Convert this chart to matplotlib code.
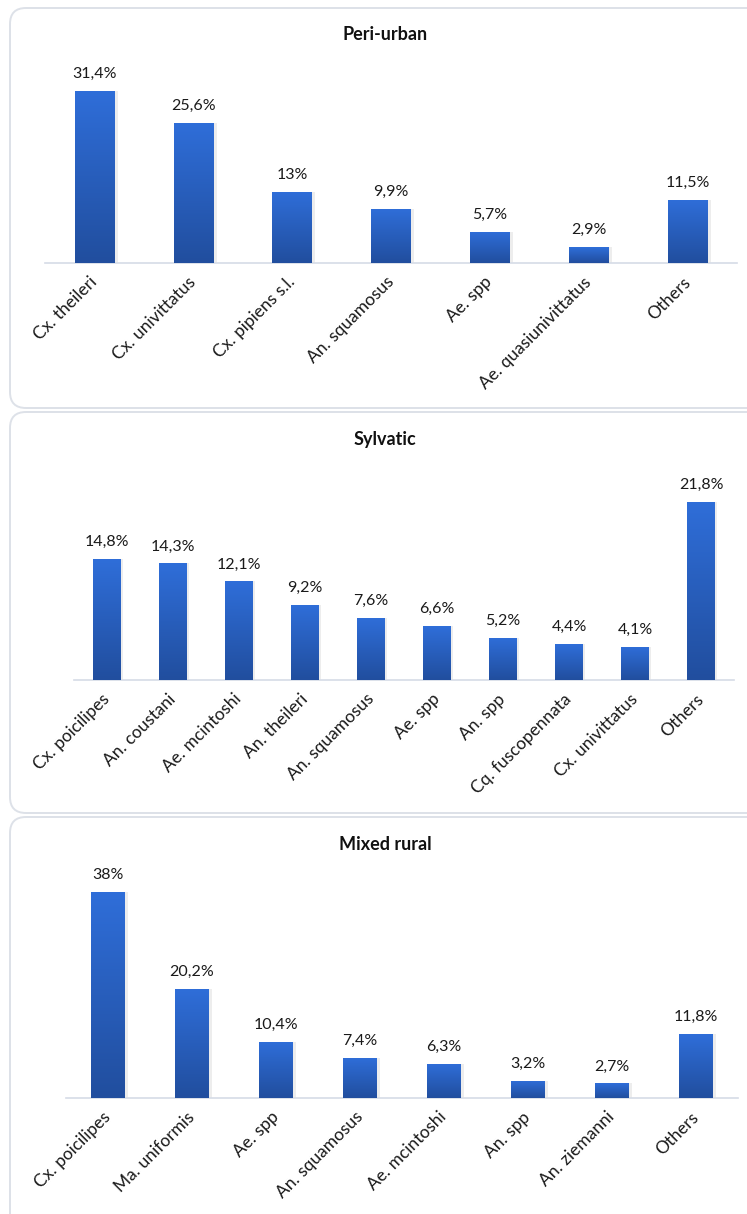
import numpy as np
import matplotlib
matplotlib.use("Agg")
import matplotlib.pyplot as plt
from matplotlib.patches import FancyBboxPatch

plt.rcParams["font.family"] = ["Lato", "DejaVu Sans"]

# Data
peri_species = ["Cx. theileri", "Cx. univittatus", "Cx. pipiens s.l.", "An. squamosus",
                "Ae. spp", "Ae. quasiunivittatus", "Others"]
peri_values = [31.4, 25.6, 13, 9.9, 5.7, 2.9, 11.5]
peri_labels = ["31,4%", "25,6%", "13%", "9,9%", "5,7%", "2,9%", "11,5%"]

sylv_species = ["Cx. poicilipes", "An. coustani", "Ae. mcintoshi", "An. theileri",
                "An. squamosus", "Ae. spp", "An. spp", "Cq. fuscopennata",
                "Cx. univittatus", "Others"]
sylv_values = [14.8, 14.3, 12.1, 9.2, 7.6, 6.6, 5.2, 4.4, 4.1, 21.8]
sylv_labels = ["14,8%", "14,3%", "12,1%", "9,2%", "7,6%", "6,6%", "5,2%", "4,4%",
               "4,1%", "21,8%"]

mixed_species = ["Cx. poicilipes", "Ma. uniformis", "Ae. spp", "An. squamosus",
                 "Ae. mcintoshi", "An. spp", "An. ziemanni", "Others"]
mixed_values = [38, 20.2, 10.4, 7.4, 6.3, 3.2, 2.7, 11.8]
mixed_labels = ["38%", "20,2%", "10,4%", "7,4%", "6,3%", "3,2%", "2,7%", "11,8%"]

W, H = 747, 1214
fig = plt.figure(figsize=(W / 100, H / 100), dpi=100)
fig.patch.set_facecolor("white")

# background layer in pixel coordinates for the rounded panel frames
bg = fig.add_axes([0, 0, 1, 1])
bg.set_xlim(0, W)
bg.set_ylim(H, 0)
bg.axis("off")
for top, bottom in [(8, 408), (412, 813), (817, 1240)]:
    bg.add_patch(FancyBboxPatch((10, top), 760, bottom - top,
                                boxstyle="round,pad=0,rounding_size=16",
                                facecolor="white", edgecolor="#dde1e8", linewidth=1.4))

top_col = np.array([47, 110, 217]) / 255
bot_col = np.array([33, 78, 158]) / 255
grad = np.linspace(0, 1, 256)[:, None, None]
grad_img = top_col * (1 - grad) + bot_col * grad


def px_axes(left, right, base, top):
    return fig.add_axes([left / W, 1 - base / H, (right - left) / W, (base - top) / H])


def draw_panel(title, title_y, species, values, labels, left, right, base, px_per, width):
    top = base - px_per * 40
    ax = px_axes(left, right, base, top)
    ax.set_facecolor("none")
    x = np.arange(len(species))
    # faint shadow
    ax.bar(x + 0.025, values, width=width + 0.02, color="#000000", alpha=0.07, zorder=1)
    bars = ax.bar(x, values, width=width, color=bot_col, zorder=2)
    for b in bars:
        x0, y0 = b.get_x(), b.get_y()
        im = ax.imshow(grad_img, extent=[x0, x0 + b.get_width(), y0, y0 + b.get_height()],
                       aspect="auto", zorder=3, origin="upper")
        im.set_clip_path(b)
    for xi, v, lab in zip(x, values, labels):
        ax.annotate(lab, (xi, v), xytext=(0, 7), textcoords="offset points",
                    ha="center", va="bottom", fontsize=11.5, color="#1a1a1a")
    ax.set_xlim(-0.5, len(species) - 0.5)
    ax.set_ylim(0, 40)
    ax.set_xticks(x)
    ax.set_xticklabels(species, rotation=45, ha="right", va="center",
                       rotation_mode="anchor", fontsize=12.5, color="#1a1a1a")
    ax.tick_params(axis="x", length=0, pad=12)
    ax.set_yticks([])
    for s in ["top", "right", "left"]:
        ax.spines[s].set_visible(False)
    ax.spines["bottom"].set_color("#d6dbe6")
    ax.spines["bottom"].set_linewidth(1.2)
    fig.text(385 / W, 1 - title_y / H, title, ha="center", va="center",
             fontsize=13, fontweight="bold", color="#111111")


draw_panel("Peri-urban", 35, peri_species, peri_values, peri_labels, 45, 737, 263, 5.48, 0.40)
draw_panel("Sylvatic", 440, sylv_species, sylv_values, sylv_labels, 74, 734, 680, 8.17, 0.42)
draw_panel("Mixed rural", 845, mixed_species, mixed_values, mixed_labels, 66, 738, 1098, 5.42, 0.40)

fig.savefig("out.png", dpi=100)
